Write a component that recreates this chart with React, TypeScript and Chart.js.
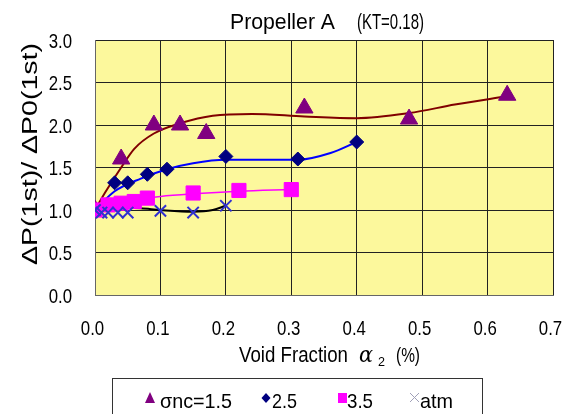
import React, { useEffect, useRef } from "react";
import { Chart, registerables } from "chart.js";

Chart.register(...registerables);

// ---- data ----
const xTickValues = [0, 0.1, 0.2, 0.3, 0.4, 0.5, 0.6, 0.7];
const xTickLabels = ["0.0", "0.1", "0.2", "0.3", "0.4", "0.5", "0.6", "0.7"];
const yTickValues = [0, 0.5, 1.0, 1.5, 2.0, 2.5, 3.0];
const yTickLabels = ["0.0", "0.5", "1.0", "1.5", "2.0", "2.5", "3.0"];

const s15X = [0, 0.04, 0.09, 0.13, 0.17, 0.32, 0.48, 0.63];
const s15Y = [1.0, 1.6, 2.0, 2.0, 1.9, 2.2, 2.07, 2.35];
const s15CurveX = [0, 0.015, 0.04, 0.06, 0.09, 0.13, 0.18, 0.24, 0.32, 0.4, 0.48, 0.55, 0.63];
const s15CurveY = [1.0, 1.2, 1.5, 1.72, 1.9, 2.02, 2.11, 2.13, 2.1, 2.08, 2.14, 2.24, 2.34];

const s25X = [0, 0.03, 0.05, 0.08, 0.11, 0.2, 0.31, 0.4];
const s25Y = [1.0, 1.32, 1.32, 1.42, 1.48, 1.63, 1.6, 1.8];
const s25CurveX = [0, 0.03, 0.07, 0.11, 0.15, 0.2, 0.25, 0.31, 0.36, 0.4];
const s25CurveY = [1.0, 1.22, 1.37, 1.48, 1.55, 1.59, 1.59, 1.59, 1.67, 1.8];

const s35X = [0, 0.02, 0.04, 0.06, 0.08, 0.15, 0.22, 0.3];
const s35Y = [1.0, 1.06, 1.08, 1.1, 1.14, 1.2, 1.23, 1.24];
const s35CurveX = [0, 0.02, 0.05, 0.1, 0.15, 0.22, 0.3];
const s35CurveY = [1.0, 1.07, 1.11, 1.16, 1.19, 1.22, 1.24];

const atmX = [0, 0.01, 0.02, 0.035, 0.05, 0.1, 0.15, 0.2];
const atmY = [1.0, 0.97, 0.97, 0.97, 0.97, 0.99, 0.97, 1.05];
const atmCurveX = [0, 0.03, 0.07, 0.1, 0.15, 0.18, 0.2];
const atmCurveY = [1.0, 1.03, 1.02, 1.0, 0.98, 1.0, 1.05];

const legendLabels = ["σnc=1.5", "2.5", "3.5", "atm"];
const titleMain = "Propeller A";
const titleParen = "(KT=0.18)";
const yTitleText = "ΔP(1st)/ ΔP0(1st)";
const xTitleMain = "Void Fraction";
const xTitleSym = "α";
const xTitleSub = "2";
const xTitleUnit = "(%)";

const FONT = "'Liberation Sans', Arial, sans-serif";
const NARROW = 0.8;

const pts = (xs: number[], ys: number[]) => xs.map((x, i) => ({ x, y: ys[i] }));

// draw text fitted horizontally between x0 and x1 (baseline y)
function fitText(ctx: CanvasRenderingContext2D, text: string, x0: number, x1: number, y: number, font: string) {
  ctx.save();
  ctx.font = font;
  ctx.textAlign = "left";
  ctx.textBaseline = "alphabetic";
  const w = ctx.measureText(text).width;
  ctx.translate(x0, y);
  ctx.scale((x1 - x0) / w, 1);
  ctx.fillText(text, 0, 0);
  ctx.restore();
}

// narrow text with given anchor
function narrowText(ctx: CanvasRenderingContext2D, text: string, x: number, y: number, align: "left" | "right" | "center", font: string) {
  ctx.save();
  ctx.font = font;
  ctx.textBaseline = "alphabetic";
  ctx.textAlign = align;
  ctx.translate(x, y);
  ctx.scale(NARROW, 1);
  ctx.fillText(text, 0, 0);
  ctx.restore();
}

const textPlugin = {
  id: "extraText",
  afterDraw(chart: any) {
    const ctx = chart.ctx as CanvasRenderingContext2D;
    const xs = chart.scales.x;
    const ys = chart.scales.y;
    ctx.save();
    ctx.fillStyle = "#000";

    // tick labels
    yTickValues.forEach((v, i) => {
      narrowText(ctx, yTickLabels[i], 72, ys.getPixelForValue(v) + 7.5, "right", `21px ${FONT}`);
    });
    xTickValues.forEach((v, i) => {
      narrowText(ctx, xTickLabels[i], xs.getPixelForValue(v) - 2.5, 335, "center", `21px ${FONT}`);
    });

    // title
    fitText(ctx, titleMain, 230, 335, 29, `22px ${FONT}`);
    fitText(ctx, titleParen, 357, 424, 29, `22px ${FONT}`);

    // y title (rotated)
    ctx.save();
    ctx.translate(37, 265);
    ctx.rotate(-Math.PI / 2);
    fitText(ctx, yTitleText, 0, 222, 0, `22px ${FONT}`);
    ctx.restore();

    // x title
    fitText(ctx, xTitleMain, 239, 348, 362, `22px ${FONT}`);
    fitText(ctx, xTitleSym, 359, 373, 362, `italic 22px 'DejaVu Serif', serif`);
    fitText(ctx, xTitleSub, 378, 385, 366, `12px ${FONT}`);
    fitText(ctx, xTitleUnit, 396, 420, 362, `20px ${FONT}`);

    // legend box
    ctx.strokeStyle = "#333";
    ctx.lineWidth = 1;
    ctx.strokeRect(112.5, 378.5, 370, 60);
    const ly = 398;
    const tb = 408;
    // triangle
    ctx.fillStyle = "#800080";
    ctx.beginPath();
    ctx.moveTo(150, ly - 6);
    ctx.lineTo(155, ly + 5);
    ctx.lineTo(145, ly + 5);
    ctx.closePath();
    ctx.fill();
    ctx.fillStyle = "#000";
    fitText(ctx, legendLabels[0], 160, 232, tb, `21px ${FONT}`);
    // diamond
    ctx.fillStyle = "#000080";
    ctx.beginPath();
    ctx.moveTo(266, ly - 5);
    ctx.lineTo(270.5, ly);
    ctx.lineTo(266, ly + 5);
    ctx.lineTo(261.5, ly);
    ctx.closePath();
    ctx.fill();
    ctx.fillStyle = "#000";
    fitText(ctx, legendLabels[1], 272, 297, tb, `21px ${FONT}`);
    // square
    ctx.fillStyle = "#FF00FF";
    ctx.fillRect(338, ly - 5, 9, 10);
    ctx.fillStyle = "#000";
    fitText(ctx, legendLabels[2], 347, 373, tb, `21px ${FONT}`);
    // cross
    ctx.strokeStyle = "#a0a0b8";
    ctx.lineWidth = 1;
    ctx.beginPath();
    ctx.moveTo(410, ly - 5);
    ctx.lineTo(419, ly + 4);
    ctx.moveTo(419, ly - 5);
    ctx.lineTo(410, ly + 4);
    ctx.stroke();
    ctx.fillStyle = "#000";
    fitText(ctx, legendLabels[3], 420, 453, tb, `21px ${FONT}`);
    ctx.restore();
  },
};

const bgPlugin = {
  id: "plotBg",
  beforeDraw(chart: any) {
    const ctx = chart.ctx as CanvasRenderingContext2D;
    const ca = chart.chartArea;
    ctx.save();
    ctx.fillStyle = "#ffffff";
    ctx.fillRect(0, 0, chart.width, chart.height);
    ctx.fillStyle = "#FCF89C";
    ctx.fillRect(ca.left, ca.top, ca.right - ca.left, ca.bottom - ca.top);
    ctx.restore();
  },
};

export default function App() {
  const ref = useRef<HTMLCanvasElement | null>(null);
  useEffect(() => {
    if (!ref.current) return;
    const curve = (xs: number[], ys: number[], color: string, w: number) => ({
      type: "line" as const,
      data: pts(xs, ys),
      borderColor: color,
      borderWidth: w,
      pointRadius: 0,
      showLine: true,
      tension: 0.4,
      cubicInterpolationMode: "monotone" as const,
      fill: false,
      order: 10,
    });
    const marks = (xs: number[], ys: number[], style: string, color: string, r: number, order: number, bw = 1) => ({
      type: "scatter" as const,
      data: pts(xs, ys),
      pointStyle: style,
      pointRadius: r,
      pointBackgroundColor: color,
      pointBorderColor: color,
      pointBorderWidth: bw,
      showLine: false,
      order,
    });
    const chart = new Chart(ref.current, {
      type: "scatter",
      data: {
        datasets: [
          curve(s15CurveX, s15CurveY, "#800000", 2),
          curve(s25CurveX, s25CurveY, "#0000FF", 2),
          curve(s35CurveX, s35CurveY, "#FF00FF", 1.5),
          curve(atmCurveX, atmCurveY, "#000000", 2),
          marks(s15X, s15Y, "triangle", "#800080", 10, 4),
          marks(s25X, s25Y, "rectRot", "#000080", 7, 3),
          marks(s35X, s35Y, "rect", "#FF00FF", 10, 2),
          marks(atmX, atmY, "crossRot", "#3030D0", 8, 1, 2),
        ] as any,
      },
      options: {
        animation: false,
        responsive: false,
        maintainAspectRatio: false,
        layout: { padding: { left: 0, right: 15, top: 40, bottom: 0 } },
        plugins: { legend: { display: false }, tooltip: { enabled: false }, title: { display: false } },
        scales: {
          x: {
            type: "linear",
            min: 0,
            max: 0.7,
            afterFit: (s: any) => {
              s.height = 119;
              s.paddingLeft = 0;
              s.paddingRight = 0;
            },
            ticks: { stepSize: 0.1, display: false },
            grid: { color: "#222", lineWidth: 1, drawTicks: false },
            border: { color: "#666", width: 1 },
          },
          y: {
            type: "linear",
            min: 0,
            max: 3,
            afterFit: (s: any) => {
              s.width = 95;
              s.paddingTop = 0;
              s.paddingBottom = 0;
            },
            ticks: { stepSize: 0.5, display: false },
            grid: { color: "#222", lineWidth: 1, drawTicks: false },
            border: { color: "#666", width: 1 },
          },
        },
      },
      plugins: [bgPlugin, textPlugin],
    });
    return () => chart.destroy();
  }, []);
  return (
    <div style={{ position: "fixed", left: 0, top: 0, width: 568, height: 414, background: "#fff" }}>
      <canvas ref={ref} width={568} height={414} style={{ width: 568, height: 414 }} />
    </div>
  );
}
